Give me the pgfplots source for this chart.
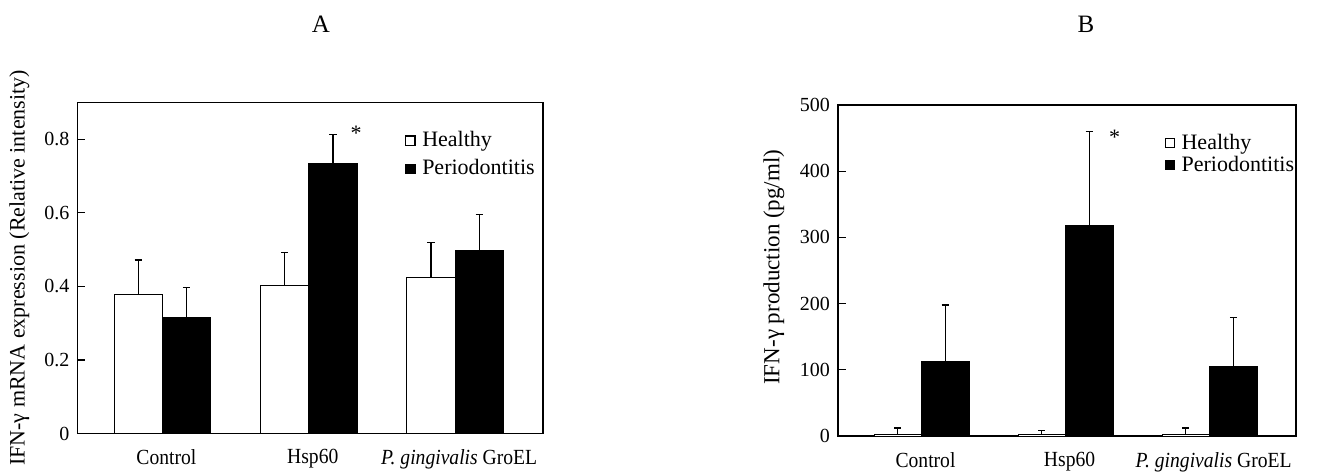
\documentclass[border=0pt]{standalone}
\usepackage{pgfplots}
\pgfplotsset{compat=1.18}
\usepackage{fontspec}
\setmainfont{Liberation Serif}

% one pixel of the reference = 0.5pt
\pgfplotsset{
  panel/.style={
    scale only axis,
    anchor=south west,
    height=165.5pt,
    ybar,
    bar width=0.33,
    xmin=-0.58, xmax=2.6,
    xtick={0,1,2},
    xticklabels={\scalebox{1}[1.1]{Control},
                 \scalebox{1}[1.1]{Hsp60},
                 \scalebox{1}[1.1]{\textit{P. gingivalis} GroEL}},
    xtick style={draw=none},
    xticklabel style={font=\fontsize{9.8}{11}\selectfont, yshift=-4.5pt, xshift=2pt},
    ytick pos=left,
    tick align=inside,
    major tick length=4pt,
    yticklabel style={font=\fontsize{10}{12}\selectfont, xshift=-0.5pt},
    /pgf/number format/assume math mode=true,
    axis line style={line width=0.7pt},
    every tick/.style={line width=0.6pt, black},
    legend image code/.code={
      \draw[#1, draw=black, line width=0.6pt] (0pt,-2.3pt) rectangle (4.6pt,2.3pt);
      \path (7pt,0pt);},
    legend cell align=left,
    legend style={draw=none, fill=none, anchor=north west, inner sep=0pt,
      font=\fontsize{11}{13}\selectfont, nodes={inner sep=1pt}},
  },
  healthy/.style={fill=white, draw=black, line width=0.5pt, bar shift=-0.165,
    error bars/.cd, y dir=plus, y explicit,
    error bar style={line width=0.6pt, black},
    error mark options={rotate=90, mark size=1.8pt, line width=0.6pt, black}},
  perio/.style={fill=black, draw=black, line width=0.5pt, bar shift=0.165,
    error bars/.cd, y dir=plus, y explicit,
    error bar style={line width=0.6pt, black},
    error mark options={rotate=90, mark size=1.8pt, line width=0.6pt, black}},
}

\begin{document}
\begin{tikzpicture}
\path[use as bounding box] (0,0) rectangle (661pt,236pt);

\node[font=\fontsize{12.5}{14}\selectfont] at (160.5pt,224pt) {A};
\node[font=\fontsize{12.5}{14}\selectfont] at (543pt,224pt) {B};

% panel A
\begin{axis}[panel,
    at={(38.75pt,19.25pt)}, width=232.75pt,
    ymin=0, ymax=0.9,
    ytick={0,0.2,0.4,0.6,0.8},
    ylabel={IFN-γ mRNA expression (Relative intensity)},
    ylabel style={at={(axis description cs:-0.125,0.5)}, anchor=center,
      font=\fontsize{11}{13}\selectfont},
    legend style={at={(axis description cs:0.703,0.92)}, row sep=3pt},
]
\addplot[healthy] coordinates {
  (0,0.377) +- (0,0.095)
  (1,0.403) +- (0,0.090)
  (2,0.423) +- (0,0.096)
};
\addplot[perio] coordinates {
  (0,0.316) +- (0,0.081)
  (1,0.733) +- (0,0.081)
  (2,0.498) +- (0,0.097)
};
\legend{Healthy, Periodontitis}
\node[font=\fontsize{11}{12}\selectfont, yshift=-1.5pt] at (axis cs:1.323,0.825) {*};
\end{axis}

% panel B
\begin{axis}[panel,
    at={(419pt,18pt)}, width=229pt,
    ymin=0, ymax=500,
    ytick={0,100,200,300,400,500},
    ylabel={IFN-γ production (pg/ml)},
    ylabel style={at={(axis description cs:-0.14,0.51)}, anchor=center,
      font=\fontsize{11.5}{13}\selectfont},
    legend style={at={(axis description cs:0.712,0.92)}, row sep=0pt},
]
\addplot[healthy] coordinates {
  (0,3) +- (0,9)
  (1,3) +- (0,5)
  (2,3) +- (0,9)
};
\addplot[perio] coordinates {
  (0,112) +- (0,86)
  (1,318) +- (0,142)
  (2,105) +- (0,74)
};
\legend{Healthy, Periodontitis}
\node[font=\fontsize{11}{12}\selectfont, yshift=-1.5pt] at (axis cs:1.34,455) {*};
\end{axis}
\end{tikzpicture}
\end{document}
